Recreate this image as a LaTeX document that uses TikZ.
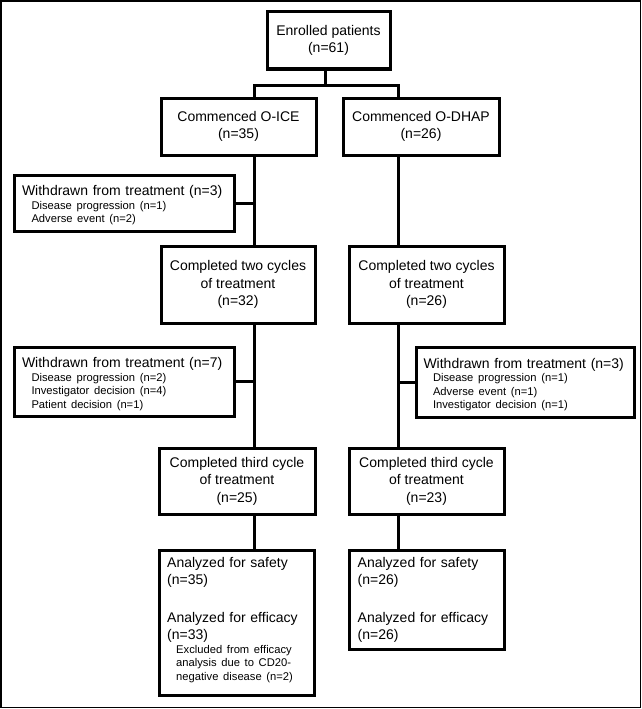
\documentclass[tikz,border=0pt]{standalone}
\usepackage{fontspec}
\setmainfont{Liberation Sans}
\usetikzlibrary{calc}
\newcommand{\mainf}{\fontsize{14}{17.5}\selectfont}
\newcommand{\subf}{\fontsize{11.2}{13.5}\selectfont}
\newcommand{\toppad}{\rule{0pt}{15pt}}
\begin{document}
\begin{tikzpicture}[x=1pt,y=-1pt,
  box/.style={draw, line width=3pt, inner sep=0pt},
  cbox/.style={box, align=center, font=\mainf},
  lbox/.style={box, font=\mainf, inner xsep=8pt, execute at begin node={\parindent=0pt\rightskip=0pt plus 1fil\relax}},
  conn/.style={line width=3pt, line join=miter},
  txt/.style={inner sep=0pt, font=\mainf, execute at begin node={\parindent=0pt\rightskip=0pt plus 1fil\relax}}]
\fill[white] (0,0) rectangle (642,709);
\useasboundingbox (0,0) rectangle (642,709);
\draw[line width=1.4pt] (1,1) rectangle (640.5,707.3);

\node[cbox, minimum width=123pt, minimum height=57pt] (enr) at (328.5,40.5) {Enrolled patients\\(n=61)};
\node[cbox, minimum width=155pt, minimum height=57pt] (ice) at (238.5,126.5) {Commenced O-ICE\\(n=35)};
\node[cbox, minimum width=156pt, minimum height=57pt] (dhap) at (421,126.5) {Commenced O-DHAP\\(n=26)};

\node[lbox, text width=204pt, minimum height=56pt] (wd1) at (124,203)
  {\toppad Withdrawn from treatment (n=3)\par\subf\leftskip=9.5pt Disease progression (n=1)\par Adverse event (n=2)\par};

\node[cbox, minimum width=154pt, minimum height=77pt] (c2L) at (238,284.5) {Completed two cycles\\of treatment\\(n=32)};
\node[cbox, minimum width=155pt, minimum height=77pt] (c2R) at (426.5,284.5) {Completed two cycles\\of treatment\\(n=26)};

\node[lbox, text width=204pt, minimum height=69pt] (wd2) at (124,381.5)
  {\toppad Withdrawn from treatment (n=7)\par\subf\leftskip=9.5pt Disease progression (n=2)\par Investigator decision (n=4)\par Patient decision (n=1)\par};
\node[lbox, inner xsep=7.5pt, text width=203pt, minimum height=70pt] (wd3) at (525,382)
  {\toppad Withdrawn from treatment (n=3)\par\subf\leftskip=9.5pt Disease progression (n=1)\par Adverse event (n=1)\par Investigator decision (n=1)\par};

\node[cbox, minimum width=156pt, minimum height=66pt] (c3L) at (237,481) {Completed third cycle\\of treatment\\(n=25)};
\node[cbox, minimum width=155pt, minimum height=66pt] (c3R) at (426.5,481) {Completed third cycle\\of treatment\\(n=23)};

\node[box, minimum width=155pt, minimum height=145pt] (anL) at (236.5,622.5) {};
\node[txt, anchor=north west, text width=140pt] (anLt) at ($(anL.north west)+(9.5,8.5)$)
  {Analyzed for safety\par (n=35)\par\vspace{20pt}Analyzed for efficacy\par (n=33)\par\subf\leftskip=9pt Excluded from efficacy\par analysis due to CD20-\par negative disease (n=2)\par};
\node[box, minimum width=155pt, minimum height=99pt] (anR) at (426.5,599.5) {};
\node[txt, anchor=north west, text width=140pt] (anRt) at ($(anR.north west)+(10,8.5)$)
  {Analyzed for safety\par (n=26)\par\vspace{20pt}Analyzed for efficacy\par (n=26)\par};

\coordinate (xL) at (254,0);
\coordinate (xR) at (398,0);
\coordinate (xM) at (325,0);
\coordinate (bar) at (0,85);
\draw[conn] (enr.south -| xM) -- (xM |- bar);
\draw[conn] (ice.north -| xL) -- (xL |- bar) -- (xR |- bar) -- (dhap.north -| xR);
\draw[conn] (ice.south -| xL) -- (c2L.north -| xL);
\draw[conn] (wd1.east) -- (wd1.east -| xL);
\draw[conn] (c2L.south -| xL) -- (c3L.north -| xL);
\draw[conn] (wd2.east) -- (wd2.east -| xL);
\draw[conn] (c3L.south -| xL) -- (anL.north -| xL);
\draw[conn] (dhap.south -| xR) -- (c2R.north -| xR);
\draw[conn] (c2R.south -| xR) -- (c3R.north -| xR);
\draw[conn] (wd3.west) -- (wd3.west -| xR);
\draw[conn] (c3R.south -| xR) -- (anR.north -| xR);
\end{tikzpicture}
\end{document}
